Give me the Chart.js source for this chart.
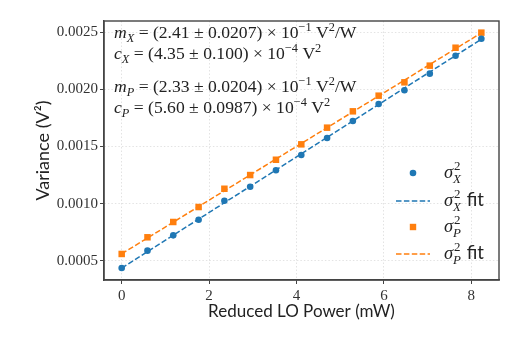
<!DOCTYPE html>
<html>
<head>
<meta charset="utf-8">
<script src="https://cdn.jsdelivr.net/npm/chart.js@4.4.0/dist/chart.umd.min.js"></script>
<style>
  html, body { margin: 0; padding: 0; background: #fff; }
</style>
</head>
<body>
<canvas id="chart" width="523" height="343"></canvas>
<script>
// values
const power = [0, 0.59, 1.18, 1.76, 2.35, 2.94, 3.53, 4.11, 4.70, 5.29, 5.88, 6.47, 7.05, 7.64, 8.23];
const varX = [0.000436, 0.000588, 0.000722, 0.000859, 0.001025, 0.001148, 0.001292, 0.001426, 0.001574, 0.001723, 0.001872, 0.001992, 0.002138, 0.002295, 0.002444];
const varP = [0.000559, 0.000705, 0.000839, 0.000970, 0.001130, 0.001250, 0.001384, 0.001519, 0.001665, 0.001808, 0.001945, 0.002062, 0.002208, 0.002365, 0.002497];
const fitPower = [0, 8.23];
const fitX = [0.000435, 0.002440];
const fitP = [0.000560, 0.002495];
const xTicks = [0, 2, 4, 6, 8];
const yTicks = [0.0005, 0.0010, 0.0015, 0.0020, 0.0025];

// fit results printed in the top left corner
const fitText = [
  [["m", "i"], ["X", "sub"], [" = (2.41 ± 0.0207) × 10", "r"], ["−1", "sup"], [" V", "r"], ["2", "sup"], ["/W", "r"]],
  [["c", "i"], ["X", "sub"], [" = (4.35 ± 0.100) × 10", "r"], ["−4", "sup"], [" V", "r"], ["2", "sup"]],
  [["m", "i"], ["P", "sub"], [" = (2.33 ± 0.0204) × 10", "r"], ["−1", "sup"], [" V", "r"], ["2", "sup"], ["/W", "r"]],
  [["c", "i"], ["P", "sub"], [" = (5.60 ± 0.0987) × 10", "r"], ["−4", "sup"], [" V", "r"], ["2", "sup"]]
];

const blue = "#1f77b4";
const orange = "#ff7f0e";
const serif = "'Liberation Serif', serif";
const sans = "Lato, 'DejaVu Sans', sans-serif";
const dash = [5.5, 2.4];

function toPoints(xs, ys) {
  return xs.map((x, i) => ({ x: x, y: ys[i] }));
}

// draws a line of mixed italic / sub / superscript text
function drawRich(ctx, parts, x, y, size) {
  parts.forEach(function (p) {
    let t = p[0], kind = p[1];
    let fs = size, dy = 0, style = "", fam = serif;
    if (kind === "i") style = "italic ";
    if (kind === "sub") { fs = size * 0.7; dy = size * 0.2; style = "italic "; }
    if (kind === "sup") { fs = size * 0.7; dy = -size * 0.4; }
    if (kind === "sans") fam = sans;
    if (kind === "stack") {
      ctx.font = (size * 0.7) + "px " + serif;
      ctx.fillText(t[0], x + 1, y - size * 0.42);
      let w1 = ctx.measureText(t[0]).width;
      ctx.font = "italic " + (size * 0.7) + "px " + serif;
      ctx.fillText(t[1], x, y + size * 0.25);
      x += Math.max(w1 + 1, ctx.measureText(t[1]).width) + 1;
      return;
    }
    ctx.font = style + fs + "px " + fam;
    ctx.fillText(t, x, y + dy);
    x += ctx.measureText(t).width;
  });
}

const extras = {
  id: "extras",
  afterDraw(chart) {
    const ctx = chart.ctx;
    const a = chart.chartArea;
    ctx.save();
    // frame
    ctx.strokeStyle = "#444";
    ctx.lineWidth = 1.4;
    ctx.strokeRect(a.left, a.top, a.right - a.left, a.bottom - a.top);

    // fit text
    ctx.fillStyle = "#222";
    ctx.textBaseline = "alphabetic";
    const rows = [17, 38, 71, 92];
    fitText.forEach(function (line, i) {
      drawRich(ctx, line, a.left + 10, a.top + rows[i], 17.6);
    });

    // legend
    const lx = a.right - 86, tx = a.right - 55;
    const ly = [a.bottom - 107, a.bottom - 79, a.bottom - 53, a.bottom - 26];
    const labels = [
      [["σ", "i"], [["2", "X"], "stack"]],
      [["σ", "i"], [["2", "X"], "stack"], [" fit", "sans"]],
      [["σ", "i"], [["2", "P"], "stack"]],
      [["σ", "i"], [["2", "P"], "stack"], [" fit", "sans"]]
    ];
    ctx.fillStyle = blue;
    ctx.beginPath();
    ctx.arc(lx, ly[0], 3.3, 0, Math.PI * 2);
    ctx.fill();
    ctx.fillStyle = orange;
    ctx.fillRect(lx - 3.2, ly[2] - 3.2, 6.4, 6.4);
    ctx.lineWidth = 1.5;
    ctx.setLineDash(dash);
    [[1, blue], [3, orange]].forEach(function (d) {
      ctx.strokeStyle = d[1];
      ctx.beginPath();
      ctx.moveTo(a.right - 103, ly[d[0]]);
      ctx.lineTo(a.right - 69, ly[d[0]]);
      ctx.stroke();
    });
    ctx.setLineDash([]);
    ctx.fillStyle = "#222";
    labels.forEach(function (l, i) {
      drawRich(ctx, l, tx, ly[i] + 5, 18.5);
    });
    ctx.restore();
  }
};

new Chart(document.getElementById("chart"), {
  type: "scatter",
  data: {
    datasets: [
      {
        label: "sigma X",
        data: toPoints(power, varX),
        backgroundColor: blue,
        borderWidth: 0,
        pointRadius: 3.3,
        pointHoverRadius: 3.3
      },
      {
        label: "sigma X fit",
        data: toPoints(fitPower, fitX),
        showLine: true,
        borderColor: blue,
        borderWidth: 1.5,
        borderDash: dash,
        pointRadius: 0
      },
      {
        label: "sigma P",
        data: toPoints(power, varP),
        backgroundColor: orange,
        borderWidth: 0,
        pointStyle: "rect",
        pointRadius: 4.6,
        pointHoverRadius: 4.6
      },
      {
        label: "sigma P fit",
        data: toPoints(fitPower, fitP),
        showLine: true,
        borderColor: orange,
        borderWidth: 1.5,
        borderDash: dash,
        pointRadius: 0
      }
    ]
  },
  options: {
    responsive: false,
    animation: false,
    devicePixelRatio: 1,
    layout: { padding: { top: 21, right: 24, left: 0, bottom: 0 } },
    plugins: { legend: { display: false }, tooltip: { enabled: false } },
    scales: {
      x: {
        type: "linear",
        min: -0.405,
        max: 8.634,
        afterFit: function (s) { s.height = 63; },
        afterBuildTicks: function (s) { s.ticks = xTicks.map(v => ({ value: v })); },
        grid: { color: "rgba(0,0,0,0.11)", tickColor: "#444", tickLength: 4, tickWidth: 1 },
        border: { display: true, color: "#444", width: 1.4, dash: [1.5, 2] },
        ticks: { color: "#333", padding: 3, font: { family: serif, size: 15 }, maxRotation: 0 },
        title: {
          display: true,
          text: "Reduced LO Power (mW)",
          color: "#222",
          font: { family: sans, size: 17 },
          padding: { top: 0, bottom: 21 }
        }
      },
      y: {
        type: "linear",
        min: 0.000331,
        max: 0.002599,
        afterFit: function (s) { s.width = 104; },
        afterBuildTicks: function (s) { s.ticks = yTicks.map(v => ({ value: v })); },
        grid: { color: "rgba(0,0,0,0.11)", tickColor: "#444", tickLength: 4, tickWidth: 1 },
        border: { display: true, color: "#444", width: 1.4, dash: [1.5, 2] },
        ticks: {
          color: "#333",
          padding: 2,
          font: { family: serif, size: 15 },
          callback: function (v) { return v.toFixed(4); }
        },
        title: {
          display: true,
          text: "Variance (V²)",
          color: "#222",
          font: { family: sans, size: 18 },
          padding: { top: 32, bottom: 0 }
        }
      }
    }
  },
  plugins: [extras]
});
</script>
</body>
</html>
